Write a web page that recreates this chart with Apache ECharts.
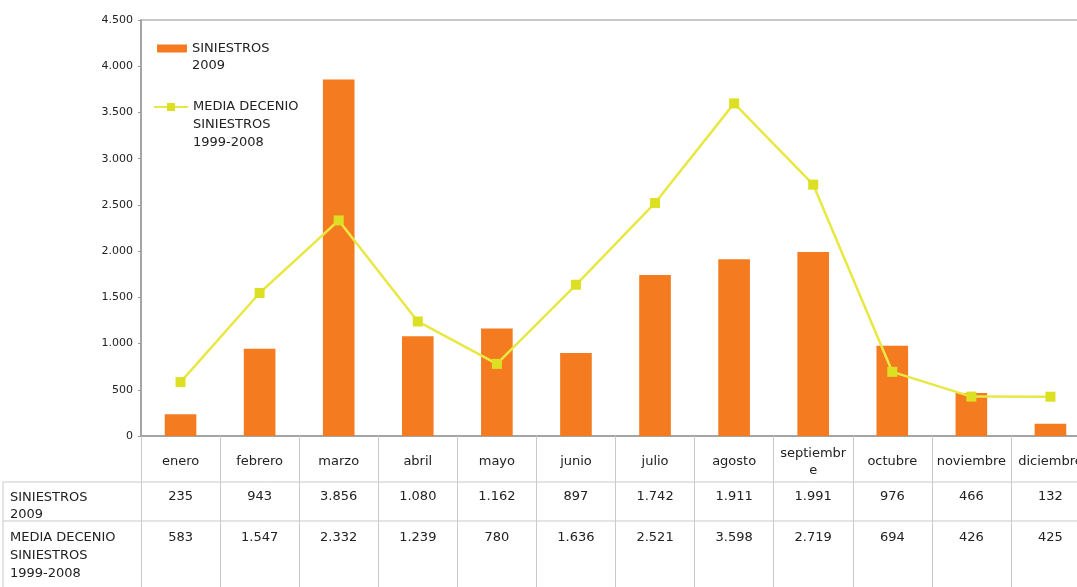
<!DOCTYPE html>
<html>
<head>
    <meta charset="UTF-8">
    <title>Siniestros 2009</title>
    <style type="text/css">
        *{ margin: 0; padding: 0; }
        body{ background: #fff; }
        #main{ width: 1077px; height: 587px; }
    </style>
    <script src="https://cdn.jsdelivr.net/npm/echarts@6/dist/echarts.min.js"></script>
</head>
<body>
<div id="main"></div>
<script type="text/javascript">
    // datos del grafico
    var categories = ['enero', 'febrero', 'marzo', 'abril', 'mayo', 'junio', 'julio', 'agosto', 'septiembre', 'octubre', 'noviembre', 'diciembre'];
    var seriesNames = ['SINIESTROS\n2009', 'MEDIA DECENIO\nSINIESTROS\n1999-2008'];
    var siniestros2009 = [235, 943, 3856, 1080, 1162, 897, 1742, 1911, 1991, 976, 466, 132];
    var mediaDecenio = [583, 1547, 2332, 1239, 780, 1636, 2521, 3598, 2719, 694, 426, 425];
    var yMin = 0, yMax = 4500, yStep = 500;

    var FONT = 'DejaVu Sans';
    var lineColor = '#c9c9c9';

    // separador de miles con punto
    function fmt(n) {
        return String(n).replace(/\B(?=(\d{3})+(?!\d))/g, '.');
    }
    // el icono de la leyenda queda en la primera linea del texto
    function padLines(name) {
        var n = name.split('\n').length - 1;
        return new Array(n + 1).join('\n') + name;
    }

    var myChart = echarts.init(document.getElementById('main'));

    var option = {
        animation: false,
        textStyle: { fontFamily: FONT },
        grid: {
            left: 141, width: 949, top: 20, bottom: 151,
            containLabel: false, outerBoundsMode: 'none',
            show: true, borderColor: '#b8b8b8', borderWidth: 1.5
        },
        legend: [
            {
                data: [seriesNames[0]],
                left: 157, top: 23, padding: 0,
                icon: 'rect', itemWidth: 30, itemHeight: 8,
                selectedMode: false,
                formatter: padLines,
                textStyle: { fontFamily: FONT, fontSize: 13, lineHeight: 17, color: '#222' }
            },
            {
                data: [seriesNames[1]],
                left: 153, top: 62, padding: 0,
                itemWidth: 34, itemHeight: 10,
                selectedMode: false,
                formatter: padLines,
                textStyle: { fontFamily: FONT, fontSize: 13, lineHeight: 18, color: '#222' }
            }
        ],
        xAxis: [
            {
                type: 'category',
                data: categories,
                position: 'bottom',
                axisLine: { lineStyle: { color: '#999', width: 1.5 } },
                axisTick: { show: true, length: 151, lineStyle: { color: lineColor } },
                axisLabel: {
                    interval: 0, margin: 26, verticalAlign: 'middle',
                    fontFamily: FONT, fontSize: 13, lineHeight: 17, color: '#222',
                    formatter: function (v) { return v === 'septiembre' ? 'septiembr\ne' : v; }
                }
            },
            {
                type: 'category',
                data: categories,
                position: 'bottom',
                offset: 46,
                axisLine: { show: false },
                axisTick: { show: false },
                axisLabel: {
                    interval: 0, margin: 8,
                    fontFamily: FONT, fontSize: 13, color: '#222',
                    formatter: function (v, i) { return fmt(siniestros2009[i]); }
                }
            },
            {
                type: 'category',
                data: categories,
                position: 'bottom',
                offset: 85,
                axisLine: { show: false },
                axisTick: { show: false },
                axisLabel: {
                    interval: 0, margin: 10,
                    fontFamily: FONT, fontSize: 13, color: '#222',
                    formatter: function (v, i) { return fmt(mediaDecenio[i]); }
                }
            }
        ],
        yAxis: {
            type: 'value',
            min: yMin, max: yMax, interval: yStep,
            axisLine: { show: true, lineStyle: { color: '#999', width: 1.5 } },
            axisTick: { show: true, length: 3, lineStyle: { color: '#999' } },
            splitLine: { show: false },
            axisLabel: {
                margin: 8, fontFamily: FONT, fontSize: 11, color: '#222',
                formatter: function (v) { return fmt(v); }
            }
        },
        graphic: [
            { type: 'line', shape: { x1: 3, y1: 482, x2: 1077, y2: 482 }, style: { stroke: lineColor, lineWidth: 1 } },
            { type: 'line', shape: { x1: 3, y1: 521, x2: 1077, y2: 521 }, style: { stroke: lineColor, lineWidth: 1 } },
            { type: 'line', shape: { x1: 3, y1: 482, x2: 3, y2: 587 }, style: { stroke: lineColor, lineWidth: 1 } },
            {
                type: 'text', left: 10, top: 489,
                style: { text: seriesNames[0], font: '13px ' + FONT, lineHeight: 17, fill: '#222' }
            },
            {
                type: 'text', left: 10, top: 529,
                style: { text: seriesNames[1], font: '13px ' + FONT, lineHeight: 18, fill: '#222' }
            }
        ],
        series: [
            {
                name: seriesNames[0],
                type: 'bar',
                barWidth: '40%',
                itemStyle: { color: '#f47b20' },
                data: siniestros2009
            },
            {
                name: seriesNames[1],
                type: 'line',
                symbol: 'rect',
                symbolSize: 10,
                itemStyle: { color: '#dde022' },
                lineStyle: { color: '#e8e845', width: 2.5 },
                data: mediaDecenio
            }
        ]
    };
    myChart.setOption(option);
</script>
</body>
</html>
